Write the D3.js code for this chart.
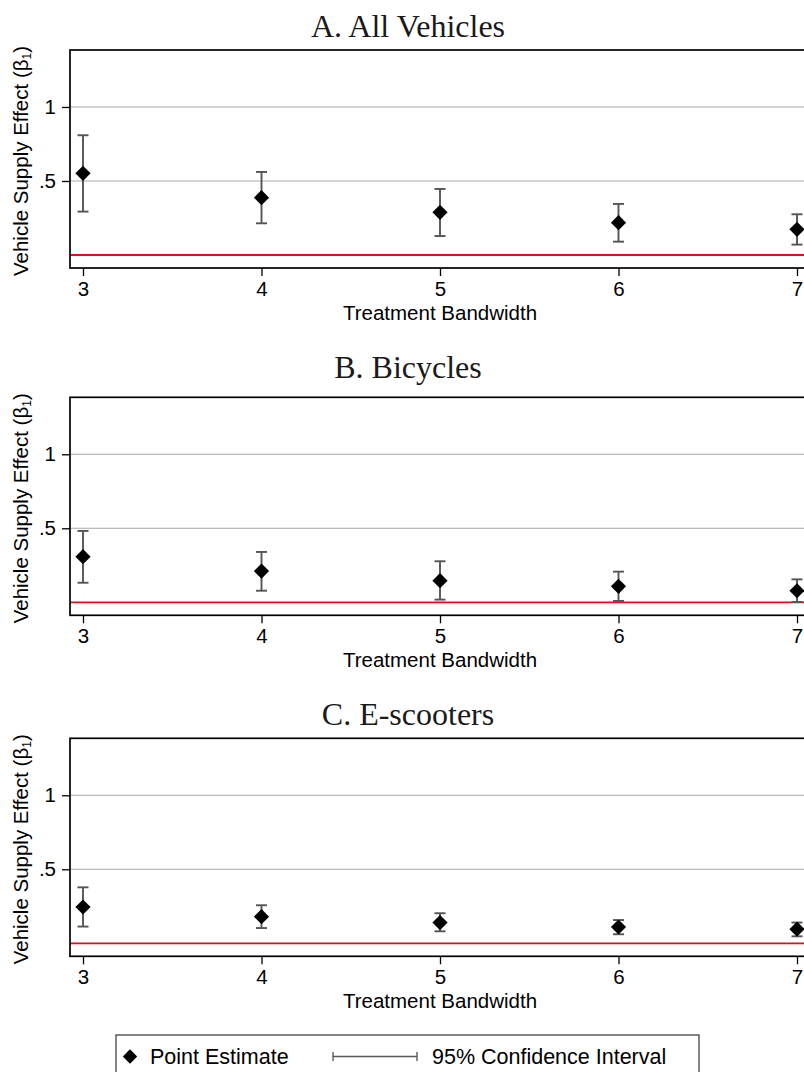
<!DOCTYPE html>
<html>
<head>
<meta charset="utf-8">
<script src="https://cdn.jsdelivr.net/npm/d3@7"></script>
<style>
  html, body { margin: 0; padding: 0; background: #fff; }
  svg { display: block; }
</style>
</head>
<body>
<svg id="canvas" width="804" height="1072"></svg>
<script>
// bandwidths on the x axis
const bandwidths = [3, 4, 5, 6, 7]
const yTicks = [0.5, 1]
const yTickLabels = ['.5', '1']

// A. All vehicles
const allEst = [0.552, 0.387, 0.288, 0.218, 0.173]
const allLo  = [0.293, 0.214, 0.128, 0.090, 0.070]
const allHi  = [0.809, 0.561, 0.446, 0.345, 0.275]

// B. Bicycles
const bikeEst = [0.308, 0.211, 0.146, 0.108, 0.078]
const bikeLo  = [0.132, 0.078, 0.018, 0.009, 0.002]
const bikeHi  = [0.482, 0.340, 0.277, 0.207, 0.155]

// C. E-scooters
const scootEst = [0.245, 0.180, 0.140, 0.110, 0.095]
const scootLo  = [0.113, 0.103, 0.081, 0.061, 0.047]
const scootHi  = [0.378, 0.257, 0.203, 0.157, 0.140]

const panelTitles = ['A. All Vehicles', 'B. Bicycles', 'C. E-scooters']
const legendLabels = ['Point Estimate', '95% Confidence Interval']

const panels = [
    {title: panelTitles[0], est: allEst, lo: allLo, hi: allHi, top: 50, titleY: 36.7},
    {title: panelTitles[1], est: bikeEst, lo: bikeLo, hi: bikeHi, top: 397.3, titleY: 377.7},
    {title: panelTitles[2], est: scootEst, lo: scootLo, hi: scootHi, top: 738.3, titleY: 725}
]

const sans = '"Liberation Sans", Arial, Helvetica, sans-serif'
const serif = '"Liberation Serif", "Times New Roman", serif'

const canvas = d3.select('#canvas')

const left = 70, right = 812, plotH = 218
const x = d3.scaleLinear().domain([3, 7]).range([83, 797])
const y = d3.scaleLinear().domain([-0.088, 1.385]).range([plotH, 0])

function diamond(cx, cy, r) {
    return `M${cx},${cy - r}L${cx + r},${cy}L${cx},${cy + r}L${cx - r},${cy}Z`
}

function drawPanel(p) {
    const g = canvas.append('g').attr('transform', `translate(0,${p.top})`)

    // title
    canvas.append('text')
        .attr('x', 408).attr('y', p.titleY)
        .attr('text-anchor', 'middle')
        .style('font-family', serif).style('font-size', '32px')
        .attr('fill', '#1a1a1a')
        .text(p.title)

    // grid lines
    g.selectAll('line.grid')
        .data(yTicks)
        .enter()
        .append('line')
        .attr('class', 'grid')
        .attr('x1', left).attr('x2', right)
        .attr('y1', d => y(d)).attr('y2', d => y(d))
        .attr('stroke', '#a8a8a8').attr('stroke-width', 1)

    // zero line
    g.append('line')
        .attr('x1', left).attr('x2', right)
        .attr('y1', y(0)).attr('y2', y(0))
        .attr('stroke', '#ec0a14').attr('stroke-width', 1.8)

    // y axis
    const yAxis = d3.axisLeft(y).tickValues(yTicks)
        .tickFormat((d, i) => yTickLabels[i]).tickSize(8).tickPadding(6)
    const ya = g.append('g').attr('transform', `translate(${left},0)`).call(yAxis)
    ya.select('.domain').remove()
    ya.selectAll('line').attr('stroke', '#000').attr('stroke-width', 1.3)
    ya.selectAll('text').style('font-family', sans).style('font-size', '20.5px').attr('fill', '#000')

    // x axis
    const xAxis = d3.axisBottom(x).tickValues(bandwidths)
        .tickFormat(d3.format('d')).tickSize(8).tickPadding(5)
    const xa = g.append('g').attr('transform', `translate(0,${plotH})`).call(xAxis)
    xa.select('.domain').remove()
    xa.selectAll('line').attr('stroke', '#000').attr('stroke-width', 1.3)
    xa.selectAll('text').style('font-family', sans).style('font-size', '20.5px').attr('fill', '#000')

    // frame
    g.append('rect')
        .attr('x', left).attr('y', 0)
        .attr('width', right - left).attr('height', plotH)
        .attr('fill', 'none').attr('stroke', '#000').attr('stroke-width', 1.7)

    // x label
    g.append('text')
        .attr('x', x(5)).attr('y', plotH + 52)
        .attr('text-anchor', 'middle')
        .style('font-family', sans).style('font-size', '20.5px')
        .text('Treatment Bandwidth')

    // y label
    const yl = g.append('text')
        .attr('transform', `translate(28,${plotH / 2 + 2}) rotate(-90)`)
        .attr('text-anchor', 'middle')
        .style('font-family', sans).style('font-size', '20.5px')
    yl.append('tspan').text('Vehicle Supply Effect (β')
    yl.append('tspan').text('1').style('font-size', '12px').attr('dy', 3)
    yl.append('tspan').text(')').attr('dy', -3)

    const rows = bandwidths.map((b, i) => ({b, est: p.est[i], lo: p.lo[i], hi: p.hi[i]}))

    // confidence intervals
    const ci = g.selectAll('g.ci').data(rows).enter().append('g').attr('class', 'ci')
        .attr('stroke', '#555').attr('stroke-width', 1.9)
    ci.append('line')
        .attr('x1', d => x(d.b)).attr('x2', d => x(d.b))
        .attr('y1', d => y(d.lo)).attr('y2', d => y(d.hi))
    ci.append('line')
        .attr('x1', d => x(d.b) - 5.5).attr('x2', d => x(d.b) + 5.5)
        .attr('y1', d => y(d.lo)).attr('y2', d => y(d.lo))
    ci.append('line')
        .attr('x1', d => x(d.b) - 5.5).attr('x2', d => x(d.b) + 5.5)
        .attr('y1', d => y(d.hi)).attr('y2', d => y(d.hi))

    // point estimates
    g.selectAll('path.pt')
        .data(rows)
        .enter()
        .append('path')
        .attr('class', 'pt')
        .attr('d', d => diamond(x(d.b), y(d.est), 7.6))
        .attr('fill', '#000')
}

panels.forEach(drawPanel)

// legend
const lg = canvas.append('g')
lg.append('rect')
    .attr('x', 116).attr('y', 1035)
    .attr('width', 583).attr('height', 60)
    .attr('fill', 'none').attr('stroke', '#333').attr('stroke-width', 1.2)
lg.append('path').attr('d', diamond(130, 1056.5, 7.2)).attr('fill', '#000')
lg.append('text')
    .attr('x', 150).attr('y', 1064.3)
    .style('font-family', sans).style('font-size', '21.5px')
    .text(legendLabels[0])
lg.append('line')
    .attr('x1', 333).attr('x2', 417).attr('y1', 1056.5).attr('y2', 1056.5)
    .attr('stroke', '#5a5a5a').attr('stroke-width', 1.4)
lg.selectAll('line.cap')
    .data([333, 417])
    .enter()
    .append('line')
    .attr('class', 'cap')
    .attr('x1', d => d).attr('x2', d => d)
    .attr('y1', 1052).attr('y2', 1061)
    .attr('stroke', '#5a5a5a').attr('stroke-width', 1.4)
lg.append('text')
    .attr('x', 432).attr('y', 1064.3)
    .style('font-family', sans).style('font-size', '21.5px')
    .text(legendLabels[1])
</script>
</body>
</html>
